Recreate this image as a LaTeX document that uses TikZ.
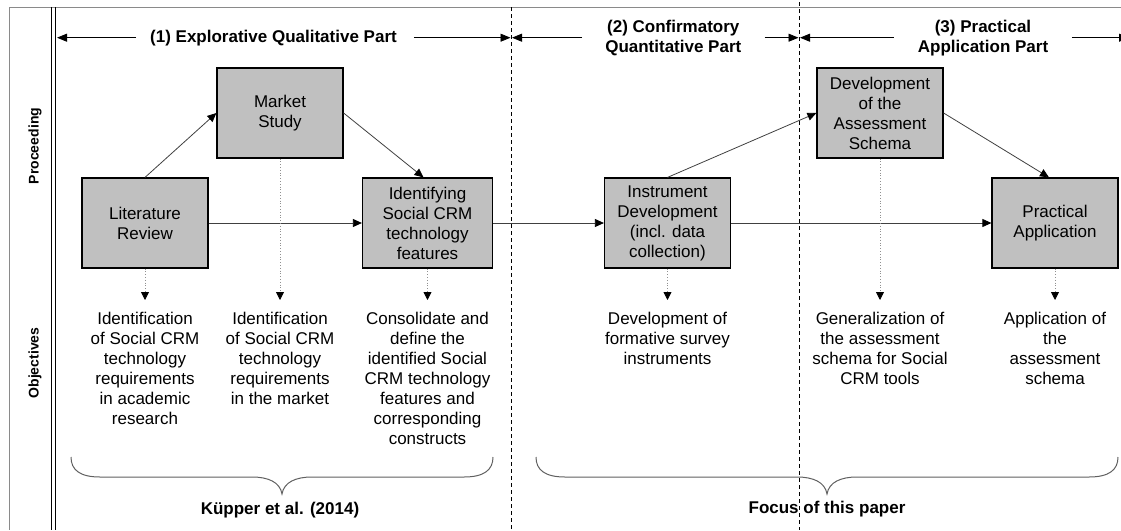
\documentclass[tikz,border=0pt]{standalone}
\usepackage{fontspec}
\setmainfont{Liberation Sans}
\usetikzlibrary{arrows.meta,calc}
\definecolor{boxgray}{HTML}{C0C0C0}
\definecolor{linegray}{HTML}{404040}
\definecolor{dotgray}{HTML}{909090}
\definecolor{framegray}{HTML}{8A8A8A}
\definecolor{bracegray}{HTML}{606060}
\begin{document}
\begin{tikzpicture}[x=1pt,y=-1pt,
  box/.style={draw=black,line width=1.2pt,fill=boxgray,minimum width=126pt,minimum height=90pt,inner sep=0pt,align=center,font=\fontsize{17}{20}\selectfont},
  obj/.style={anchor=north,inner sep=0pt,align=center,font=\fontsize{17}{20}\selectfont},
  hdr/.style={inner sep=0pt,align=center,font=\bfseries\fontsize{17}{20}\selectfont},
  side/.style={inner sep=0pt,rotate=90,font=\bfseries\fontsize{14}{16}\selectfont},
  flow/.style={draw=linegray,line width=0.8pt,-{Triangle[length=9pt,width=8pt,color=black]}},
  dotarrow/.style={draw=dotgray,line width=0.8pt,dotted,-{Triangle[length=8pt,width=8pt,color=black]},shorten >=12pt},
  harrow/.style={draw=black,line width=0.8pt,-{Triangle[length=10pt,width=8pt]}},
  sep/.style={draw=black,line width=0.6pt,dash pattern=on 4pt off 3pt},
  brace/.style={draw=bracegray,line width=1pt},
]
\useasboundingbox (0,0) rectangle (1121,530);

% frame
\draw[framegray,line width=1.5pt] (9,7.3) -- (1121,7.3);
\draw[framegray,line width=1pt] (9,7.3) -- (9,530);
\draw[black,line width=0.8pt] (51.5,7.3) -- (51.5,530);
\draw[black,line width=0.8pt] (55.5,7.3) -- (55.5,530);
\draw[sep] (511,7.3) -- (511,530);
\draw[sep] (799,2) -- (799,530);

% side labels
\node[side] (lp) at (35,146) {Proceeding};
\node[side] (lo) at (35,363) {Objectives};

% headers
\node[hdr] (h1) at (273.5,37.7) {(1) Explorative Qualitative Part};
\node[hdr] (h2) at (673.3,38.5) {(2) Confirmatory\\Quantitative Part};
\node[hdr] (h3) at (983,38.5) {(3) Practical\\Application Part};
\coordinate (s0) at (57,37.7);
\coordinate (s1l) at (510.5,37.7);
\coordinate (s1r) at (512,37.7);
\coordinate (s2l) at (798.5,37.7);
\coordinate (s2r) at (800,37.7);
\coordinate (s3) at (1129,37.7);
\draw[harrow] ($(h1.west |- s0)+(-14,0)$) -- (s0);
\draw[harrow] ($(h1.east |- s0)+(17,0)$) -- (s1l);
\draw[harrow] ($(h2.west |- s0)+(-23,0)$) -- (s1r);
\draw[harrow] ($(h2.east |- s0)+(23,0)$) -- (s2l);
\draw[harrow] ($(h3.west |- s0)+(-24,0)$) -- (s2r);
\draw[harrow] ($(h3.east |- s0)+(23.5,0)$) -- (s3);

% boxes
\node[box] (LR) at (145,223) {Literature\\Review};
\node[box] (MS) at (280,113) {Market\\Study};
\node[box,minimum width=130pt] (IF) at (427.5,223) {Identifying\\Social CRM\\technology\\features};
\node[box] (ID) at (667.5,223) {Instrument\\Development\\(incl. data\\collection)};
\node[box] (DA) at (880,113) {Development\\of the\\Assessment\\Schema};
\node[box] (PA) at (1055,223) {Practical\\Application};

% flow connectors
\draw[flow] (LR.north) -- (MS.west);
\draw[flow] (MS.east) -- ($(IF.north)+(-4,0)$);
\draw[flow] (LR.east) -- (IF.west);
\draw[flow] (IF.east) -- (ID.west);
\draw[flow] (ID.north) -- (DA.west);
\draw[flow] (DA.east) -- ($(PA.north)+(-6,0)$);
\draw[flow] (ID.east) -- (PA.west);

% objectives
\node[obj] (o1) at (145,312) {Identification\\of Social CRM\\technology\\requirements\\in academic\\research};
\node[obj] (o2) at (280,312) {Identification\\of Social CRM\\technology\\requirements\\in the market};
\node[obj] (o3) at (427.5,312) {Consolidate and\\define the\\identified Social\\CRM technology\\features and\\corresponding\\constructs};
\node[obj] (o4) at (667.5,312) {Development of\\formative survey\\instruments};
\node[obj] (o5) at (880,312) {Generalization of\\the assessment\\schema for Social\\CRM tools};
\node[obj] (o6) at (1055,312) {Application of\\the\\assessment\\schema};

\draw[dotarrow] (LR.south) -- (o1.north);
\draw[dotarrow] (MS.south) -- (o2.north);
\draw[dotarrow] (IF.south) -- (o3.north);
\draw[dotarrow] (ID.south) -- (o4.north);
\draw[dotarrow] (DA.south) -- (o5.north);
\draw[dotarrow] (PA.south) -- (o6.north);

% braces
\draw[brace] (71,457) .. controls (71,470) and (80,477) .. (100,477) -- (252,477)
  .. controls (268,477) and (280,482) .. (282,494)
  .. controls (284,482) and (296,477) .. (312,477) -- (464,477)
  .. controls (484,477) and (493,470) .. (493,457);
\draw[brace] (536,457) .. controls (536,470) and (545,477) .. (565,477) -- (797,477)
  .. controls (813,477) and (825,482) .. (827,494)
  .. controls (829,482) and (841,477) .. (857,477) -- (1089,477)
  .. controls (1109,477) and (1118,470) .. (1118,457);

\node[hdr] (k) at (280,510) {Küpper et al. (2014)};
\node[hdr] (f) at (827,509) {Focus of this paper};
\end{tikzpicture}
\end{document}
